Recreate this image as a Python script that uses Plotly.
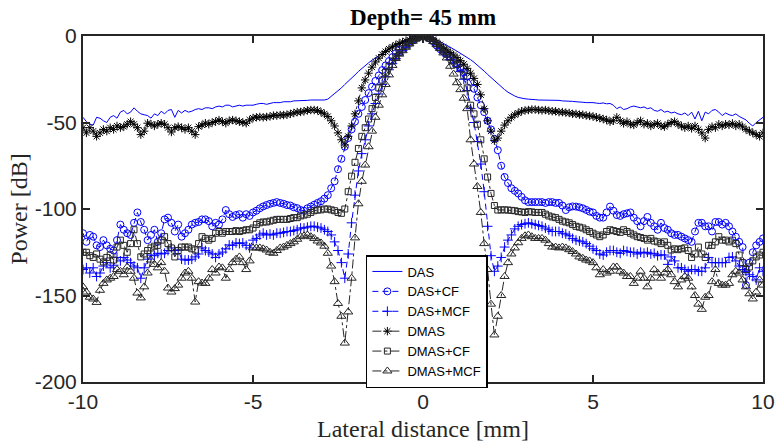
import numpy as np
import plotly.graph_objects as go

lateral_mm = np.round(np.linspace(-10, 10, 201), 1)

das = [
    -47, -49.5, -51, -51.5, -47, -47.5, -49, -50, -47, -46,
    -47.5, -44, -43, -45, -44, -41.5, -43.5, -45, -45.5, -46,
    -47.5, -45, -46, -43.5, -45, -43, -42.5, -47, -43, -44.5,
    -43, -44, -43.5, -42.5, -42, -42.5, -41.5, -41.5, -42, -41,
    -40.5, -41, -40, -40, -41, -40.5, -40, -40.5, -40, -40,
    -40, -39.5, -39, -39, -39.5, -39, -38.5, -38.5, -38.5, -38,
    -38, -38, -37.5, -37.5, -37.5, -37.5, -37.2, -37, -37, -37,
    -37, -37, -36.5, -35, -33.5, -32, -30, -28, -26.3, -24.5,
    -22.5, -20.5, -18.7, -17, -15.5, -14, -12.6, -11.3, -10, -8.8,
    -7.4, -6.3, -5.2, -4.2, -3.4, -2.6, -1.8, -1.1, -0.6, -0.2,
    0, -0.2, -0.7, -1.4, -2.2, -3.2, -4.3, -5.3, -6.4, -7.6,
    -8.8, -9.9, -11, -12.3, -13.7, -15.2, -16.8, -18.6, -20.3, -22.2,
    -24, -26, -27.7, -29.5, -31, -32.5, -33.7, -34.7, -35.5, -36,
    -36.3, -36.5, -36.5, -36.8, -37, -37, -37, -37, -37.2, -37.3,
    -37.2, -37.5, -37.5, -37.6, -37.8, -38, -38, -38.3, -38.5, -38.3,
    -38.5, -38.8, -39, -38.7, -39.2, -39, -40, -42, -41, -42.5,
    -42, -41, -40.5, -41, -41.5, -41, -42, -41.5, -43, -43.5,
    -42.5, -44, -43.5, -44.5, -44, -45, -45.5, -44.5, -46, -44,
    -48, -43.5, -49, -44, -45, -43, -42.5, -44, -46, -44.5,
    -45.5, -46, -45, -46.5, -47.5, -48.5, -50.5, -52, -50, -48.5,
    -47,
]

das_cf = [
    -114, -119, -115, -116, -121, -122, -118, -121, -123, -124,
    -118, -109, -112, -114, -115, -108, -102, -107.5, -112, -118,
    -115, -112, -119, -114, -106, -105, -108, -113, -109, -116,
    -114, -112, -109, -108, -107.5, -106, -106, -107, -110, -108,
    -109, -106, -100.6, -103, -104.6, -103.5, -103, -105, -103, -104,
    -102, -101, -99.6, -98.5, -97.7, -97, -96.5, -96, -96.5, -97,
    -97.7, -98, -99, -99.5, -100.6, -101, -99.6, -98.6, -97.5, -96.5,
    -95.5, -94, -92, -88, -84, -77, -71, -64, -59, -54,
    -49.5, -45, -41, -37, -33, -29.3, -26, -22.8, -19.7, -17,
    -14.5, -12.2, -10, -8, -6.3, -4.7, -3.3, -2, -1, -0.3,
    0, -0.4, -1.4, -3, -5.5, -7.5, -9, -10.5, -12, -14,
    -16, -18.3, -21, -23.5, -26.5, -30.5, -35.5, -40, -44, -49,
    -54, -59.5, -66, -75, -81.5, -85, -88, -89.5, -91, -93,
    -95, -96, -96, -96, -96, -96, -96.5, -96, -96, -96.5,
    -96.5, -98, -100.6, -99, -98.5, -98.6, -99, -99.6, -100.5, -101.5,
    -102, -104, -105, -105, -102, -98.6, -101, -103.5, -104, -103,
    -102.5, -102, -105, -107, -110, -107, -104.6, -108, -110, -112,
    -108, -111, -112, -114, -115, -115, -116, -117, -118, -119,
    -113, -108, -108, -110, -110, -113, -107.5, -107.5, -109, -108,
    -110, -113, -116, -119, -122, -144, -131, -125, -121, -119,
    -117,
]

das_mcf = [
    -135, -134, -137, -134, -139, -137, -133, -131, -134, -132.5,
    -128, -130, -128, -129.5, -131, -133, -134, -140, -134, -129,
    -126.6, -127, -125.6, -126, -125.6, -124, -122.5, -124, -123.7, -129,
    -129.5, -129.5, -129, -127.7, -126, -122.5, -124, -124.9, -126, -128,
    -126, -124.9, -123, -120.8, -121, -119.6, -120, -119.6, -121, -122.5,
    -118, -117, -115, -114, -115, -114.5, -115, -114, -114, -113.5,
    -113, -113, -112.5, -112, -111, -111, -110.5, -110, -110, -110.5,
    -111, -112, -113, -115, -119, -124, -131, -140, -126, -108,
    -92, -78, -68, -60, -52, -45, -39, -33.5, -28, -23.5,
    -19.5, -16, -13, -10.5, -8.5, -6.5, -4.5, -2.8, -1.3, -0.4,
    0, -0.4, -1.5, -3.3, -5.3, -7.5, -9.5, -11.5, -13.5, -15.5,
    -17.5, -20.5, -25, -31.5, -42, -50, -61, -74, -90, -110,
    -127, -136, -133, -128, -122, -118, -115, -111.5, -110, -109,
    -108.5, -108, -108.5, -109, -109.5, -110, -111, -112, -113, -113,
    -113, -114, -114.5, -115.5, -117, -118, -118.5, -119, -120, -121.5,
    -123, -124, -126, -126.6, -125, -124, -124, -125, -125.6, -124,
    -124.5, -125, -125, -126, -125, -125.5, -125, -126, -125.6, -127,
    -126.5, -126.6, -132, -127.7, -130, -134, -134, -135, -136, -135,
    -135, -136, -136, -134, -128, -131, -131, -131, -131, -131,
    -128, -127.7, -130, -133, -135, -136, -138, -139, -141, -134,
    -136,
]

dmas = [
    -53, -56, -53, -55, -58, -56, -54, -55, -53, -54,
    -52, -53, -52.4, -51, -49.5, -51, -53, -57, -55, -50.4,
    -51, -52, -51, -50.4, -51, -53, -55.5, -53, -52.4, -53,
    -54, -53, -55, -57, -52.4, -51.5, -50.4, -51, -50, -49.5,
    -48.6, -49.5, -50.4, -49, -48.6, -49, -49.5, -50, -50.4, -48.5,
    -47.4, -47, -46.8, -47, -46.8, -46.5, -46, -46, -45.7, -45.7,
    -45.5, -45, -44.5, -44, -43.9, -43.5, -43, -42.8, -42.8, -43,
    -44, -45, -46.5, -49, -52, -56, -60, -63, -58, -52,
    -45, -37.5, -30, -25.4, -21.5, -18, -15, -12.8, -10.7, -9,
    -7.5, -6.3, -5.2, -4.3, -3.5, -2.8, -2.1, -1.5, -0.8, -0.3,
    0, -0.3, -1, -2, -3.5, -5, -6.5, -8, -9.5, -11,
    -12.5, -14.3, -16.3, -18.7, -21.5, -24.5, -28, -34, -42, -49,
    -55, -60.5, -59, -55, -51.5, -49, -47, -45.5, -44.5, -43.5,
    -43, -42.8, -42.5, -42.5, -42.8, -43, -42.8, -43.2, -43.5, -43.5,
    -44, -44, -44.3, -44.5, -45, -45, -45.5, -45.5, -46, -46.2,
    -46.5, -47, -47.5, -48, -48.5, -49.5, -49, -47, -49, -50.5,
    -49.5, -51, -51.4, -50, -49, -51, -50.5, -52, -51, -50.5,
    -52, -52.4, -51, -50, -49.5, -51, -52, -53, -52, -53.4,
    -52, -54, -56, -59, -54, -52.4, -53, -51, -52, -51,
    -51.4, -50.5, -52, -51, -52.5, -54, -55, -56, -57, -58,
    -56,
]

dmas_cf = [
    -125, -125, -127, -128, -126, -129, -130.6, -128, -126.6, -129.5,
    -122, -118, -121, -125, -120, -112, -120, -127.7, -126, -124,
    -122.5, -121.5, -121, -118, -116, -120, -122.5, -127.7, -124, -122,
    -122, -122, -123, -123.7, -120, -116, -117, -118, -117, -114,
    -113, -114, -113, -113, -113, -112.5, -113, -112.5, -112, -112,
    -111, -109, -108, -107.5, -107.5, -107, -106.5, -106, -106, -106,
    -106, -105.5, -105, -105, -104, -103.5, -103, -102, -101, -100.6,
    -100.5, -100, -100, -100.5, -101, -102, -102.5, -100, -90, -81,
    -73, -65, -58, -53, -48, -42, -35.5, -30, -25.5, -21,
    -17.5, -14.5, -12, -9.5, -7.5, -5.7, -4, -2.6, -1.3, -0.4,
    0, -0.4, -1.4, -2.8, -4.5, -6.5, -8.5, -10.5, -12.5, -14.5,
    -16.5, -19, -23, -30, -40, -45, -51, -60, -71, -81.5,
    -91, -98, -100.6, -100.5, -100.5, -100.6, -100.8, -101, -101.5, -101.7,
    -102, -101.5, -101.7, -102, -102, -102, -103, -104, -104.6, -105,
    -106, -107, -107.5, -108, -109, -110, -110.5, -111, -112, -113,
    -114, -115, -116, -115, -113, -112, -112.5, -113, -113.5, -112,
    -113, -114, -115, -116, -116.5, -117, -118, -117, -118.5, -119,
    -120, -119, -121, -123.7, -123, -123.5, -123, -122.5, -124, -128,
    -126, -122, -126, -128, -121, -121, -119, -116, -118, -118,
    -119, -118, -120, -126.6, -131, -135, -133.5, -130, -127.7, -126.6,
    -125,
]

dmas_mcf = [
    -145, -148, -151, -152, -154, -147, -143, -141, -140, -139,
    -135, -136, -138, -133.5, -136, -140, -148.6, -151.4, -145, -137,
    -129.5, -132, -134, -131, -136, -145.7, -148, -146, -144, -140,
    -137, -136, -140, -153.8, -142, -142.8, -143, -140, -135, -137,
    -133.5, -134, -140, -135, -131, -129, -127.7, -131, -135, -130,
    -122.5, -122.5, -122.5, -123, -123.7, -125, -125.6, -124, -122.5, -122,
    -121, -120, -119, -117.5, -116, -115.5, -115, -116, -117, -118.5,
    -119.6, -121.5, -125.6, -133, -142, -154.6, -162, -177.5, -159.5, -140,
    -116.7, -97, -84, -74.6, -64, -55, -47, -40, -34, -28,
    -22.5, -17, -13, -10.5, -8.5, -6.5, -4.6, -3, -1.5, -0.5,
    0, -0.5, -1.6, -3.2, -5, -7.2, -9.8, -12.7, -17.5, -22,
    -27, -31, -36, -42, -60, -74, -87, -102, -120, -135,
    -155, -172.8, -162, -150, -139, -131, -126, -122.5, -119.5, -117,
    -115.5, -115, -116, -117, -117, -117, -118, -120, -122, -122,
    -122.5, -122, -122.5, -123.5, -124.6, -126, -127.7, -128.5, -129.5, -130,
    -131, -134, -138, -135, -137, -136, -133.5, -133.5, -136, -137,
    -139, -139, -143, -140, -136, -140, -145, -140, -135, -137,
    -140, -137, -135, -138, -142, -145, -141, -139, -140, -145,
    -150, -155, -158, -151, -150, -142, -135, -143, -144, -144,
    -143, -138, -136, -137, -141, -145, -149, -152, -148, -141,
    -144,
]

series_names = ["DAS", "DAS+CF", "DAS+MCF", "DMAS", "DMAS+CF", "DMAS+MCF"]
x_ticks = [-10, -5, 0, 5, 10]
y_ticks = [-200, -150, -100, -50, 0]

BLUE = "rgb(0,0,255)"
DARK = "rgb(38,38,38)"

styles = [
    dict(mode="lines", line=dict(color=BLUE, width=1, dash="solid"), marker=None),
    dict(mode="lines+markers", line=dict(color=BLUE, width=1, dash="6px,4px"),
         marker=dict(symbol="circle-open", size=7, color=BLUE, line=dict(width=1, color=BLUE))),
    dict(mode="lines+markers", line=dict(color=BLUE, width=1, dash="6px,4px"),
         marker=dict(symbol="cross-thin-open", size=7, color=BLUE, line=dict(width=1, color=BLUE))),
    dict(mode="lines+markers", line=dict(color=DARK, width=1, dash="dashdot"),
         marker=dict(symbol="asterisk-open", size=7, color="black", line=dict(width=1, color="black"))),
    dict(mode="lines+markers", line=dict(color=DARK, width=1, dash="dashdot"),
         marker=dict(symbol="square-open", size=6, color=DARK, line=dict(width=1, color=DARK))),
    dict(mode="lines+markers", line=dict(color=DARK, width=1, dash="dashdot"),
         marker=dict(symbol="triangle-up-open", size=8, color=DARK, line=dict(width=1, color=DARK))),
]

fig = go.Figure()
for name, ys, st in zip(series_names, [das, das_cf, das_mcf, dmas, dmas_cf, dmas_mcf], styles):
    kw = dict(x=lateral_mm, y=ys, name=name, mode=st["mode"], line=st["line"])
    if st["marker"] is not None:
        kw["marker"] = st["marker"]
    fig.add_trace(go.Scatter(**kw))

axis_common = dict(
    showline=True, linewidth=2, linecolor=DARK, mirror="ticks",
    ticks="inside", ticklen=7, tickwidth=1.5, tickcolor=DARK,
    showgrid=False, zeroline=False, automargin=False,
    tickfont=dict(family="Liberation Sans, Arial", size=21, color=DARK),
)

SERIF = "Liberation Serif, Times New Roman"

fig.update_layout(
    width=777, height=445,
    margin=dict(l=83, r=14, t=36, b=63),
    paper_bgcolor="white", plot_bgcolor="white",
    title=dict(text="<b>Depth= 45 mm</b>", x=0.5445, xanchor="center",
               y=1 - 17 / 445, yanchor="middle", yref="container",
               font=dict(family=SERIF, size=23, color="black")),
    xaxis=dict(range=[-10, 10], tickvals=x_ticks, ticktext=[str(v) for v in x_ticks],
               title=dict(text="Lateral distance [mm]", standoff=8,
                          font=dict(family=SERIF, size=24, color=DARK)),
               **axis_common),
    yaxis=dict(range=[-200, 0], tickvals=y_ticks, ticktext=[str(v) for v in y_ticks],
               title=dict(text="Power [dB]", standoff=0,
                          font=dict(family=SERIF, size=24, color=DARK)),
               **axis_common),
    legend=dict(x=0.416, y=0.367, xanchor="left", yanchor="top",
                bgcolor="white", bordercolor="black", borderwidth=1.5,
                font=dict(family="Liberation Sans, Arial", size=13, color="black"),
                itemwidth=30, tracegroupgap=0),
    showlegend=True,
)

fig.write_html("out.html", config={"displayModeBar": False},
               post_script="document.body.style.margin='0';")
